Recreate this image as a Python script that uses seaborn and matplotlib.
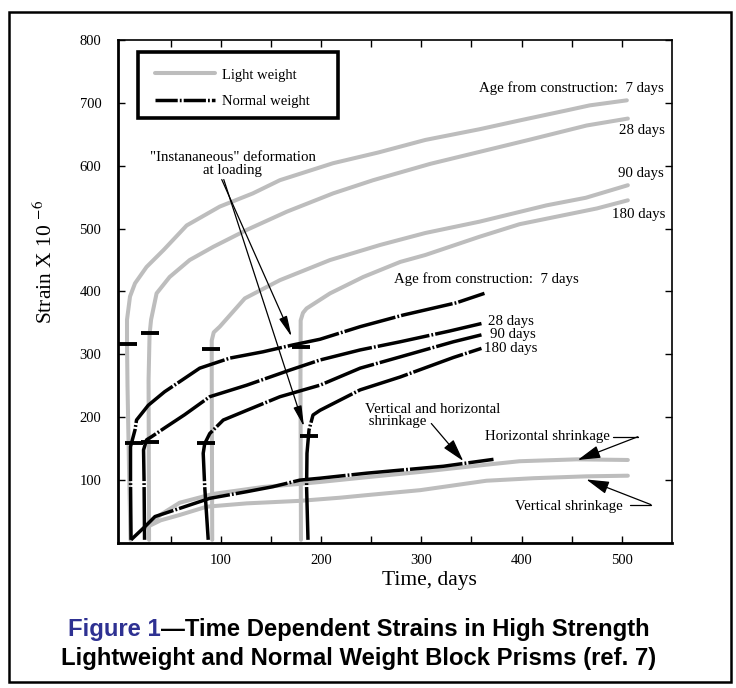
import matplotlib
matplotlib.use("Agg")
import matplotlib.pyplot as plt
from matplotlib.lines import Line2D
from matplotlib.patches import Rectangle
import seaborn as sns

# light weight prisms, loaded at 7 / 28 / 90 / 180 days
lw7_x = [10, 8.5, 7, 6.5, 6.5, 9.5, 14.5, 26, 43, 66, 99, 132, 159, 212, 257, 304, 358, 398, 445, 468, 505]
lw7_y = [5, 120, 250, 320, 355, 392, 413, 439, 466, 505, 535, 556, 577, 604, 621, 641, 658, 672, 688, 696, 704]
lw28_x = [28.5, 28, 29, 30.5, 36, 49, 69, 92.5, 126, 166, 212, 252, 309, 358, 407, 465, 506]
lw28_y = [5, 259, 332, 355, 397, 423, 450, 471, 498, 527, 556, 577, 603, 622, 641, 664, 675]
lw90_x = [91.5, 91, 91, 93, 99, 124, 159, 209, 259, 304, 358, 425, 464, 506]
lw90_y = [5, 259, 322, 335, 344, 389, 418, 450, 474, 493, 511, 537, 549, 569]
lw180_x = [180, 179.5, 179.7, 182, 185.6, 209, 242, 279, 304, 358, 398, 475, 506]
lw180_y = [5, 259, 354, 366, 373, 397, 423, 447, 458, 487, 507, 532, 545]
lw_hshrink_x = [26, 40, 59, 92.5, 142, 179, 199, 245, 299, 362, 398, 455, 506]
lw_hshrink_y = [25, 45, 64, 78, 89, 94, 97, 104.5, 113, 124, 130, 133, 132]
lw_vshrink_x = [26, 40, 59, 86, 126, 179, 219, 245, 299, 365, 412, 465, 506]
lw_vshrink_y = [25, 36, 44.5, 57.7, 63, 67, 72, 76, 84, 99, 103, 106, 107]

# normal weight prisms
nw7_x = [10.5, 10, 10, 14.5, 16, 27.7, 44, 59, 79, 109, 142, 172, 199, 239, 282, 335, 363]
nw7_y = [5, 100, 153, 180, 195.5, 219, 240.5, 256.5, 278, 294, 304, 315, 324, 344, 362.5, 382, 397]
nw28_x = [24, 23.5, 23, 26, 31, 45, 64, 89, 126, 169, 199, 239, 279, 328, 360]
nw28_y = [5, 100, 148, 164, 169, 184, 204, 232.6, 251, 275, 291, 307, 320, 337, 349]
nw90_x = [87.5, 84, 82.5, 84, 89, 102.5, 126, 159, 199, 239, 279, 332, 360]
nw90_y = [5, 89.5, 142.6, 158, 174, 195.5, 211, 232.6, 251, 278, 296, 320, 331]
nw180_x = [187, 185.6, 186, 188, 192, 199, 239, 279, 332, 360]
nw180_y = [5, 89.5, 142.6, 179.6, 203.5, 211, 243.5, 264, 295, 309.5]
nw_shrink_x = [10.5, 24.4, 34.4, 59, 89, 126, 152, 179, 199, 245.5, 322, 372]
nw_shrink_y = [5, 26, 42, 55, 71, 81.6, 89.5, 100, 103, 111, 122, 133]

# "instantaneous" deformation marks
inst_x = [7.5, 29, 90.5, 180, 13.5, 29, 85.5, 188.5]
inst_y = [316, 334, 308, 311, 158.5, 161, 159.5, 170.6]

GRAY = "#bdbdbd"
NW_DASH = (0, (38, 1.5, 1.3, 1.5))

sns.set_style("ticks")
plt.rcParams["font.family"] = ["Liberation Serif", "DejaVu Serif"]
plt.rcParams["mathtext.fontset"] = "stix"
plt.rcParams["lines.scale_dashes"] = False
for key in ["text.color", "axes.labelcolor", "xtick.color", "ytick.color"]:
    plt.rcParams[key] = "black"

fig = plt.figure(figsize=(7.36, 6.88), dpi=100)
ax = fig.add_axes([0.1603, 0.2108, 0.7527, 0.7311])

for xs, ys in [(lw7_x, lw7_y), (lw28_x, lw28_y), (lw90_x, lw90_y), (lw180_x, lw180_y),
               (lw_hshrink_x, lw_hshrink_y), (lw_vshrink_x, lw_vshrink_y)]:
    sns.lineplot(x=xs, y=ys, sort=False, estimator=None, color=GRAY, lw=2.9, ax=ax)

for xs, ys in [(nw7_x, nw7_y), (nw28_x, nw28_y), (nw90_x, nw90_y), (nw180_x, nw180_y),
               (nw_shrink_x, nw_shrink_y)]:
    sns.lineplot(x=xs, y=ys, sort=False, estimator=None, color="black", lw=2.5,
                 linestyle=NW_DASH, ax=ax)

ax.plot(inst_x, inst_y, ls="none", marker="_", ms=13, mew=2.8, color="black")

ax.set_xlim(-2.5, 550)
ax.set_ylim(0, 800)
ax.set_xticks(range(50, 550, 50))
ax.set_xticklabels([str(v) if v % 100 == 0 else "" for v in range(50, 550, 50)])
ax.set_yticks(range(100, 900, 100))
ax.tick_params(direction="in", length=5, width=1, top=True, right=True, labelsize=10.5)
ax.tick_params(axis="x", pad=8)
ax.tick_params(axis="y", pad=12)
for side in ["left", "bottom"]:
    ax.spines[side].set_linewidth(2)
for side in ["top", "right"]:
    ax.spines[side].set_linewidth(1.2)
for s in ax.spines.values():
    s.set_color("black")

ax.set_xlabel("Time, days", fontsize=15.5)
ax.set_ylabel("Strain X 10 $^{-6}$", fontsize=15.5)
ax.xaxis.set_label_coords(0.563, -0.056)
ax.yaxis.set_label_coords(-0.11, 0.559)

# legend inside a heavy box
handles = [Line2D([], [], color=GRAY, lw=2.9),
           Line2D([], [], color="black", lw=2.5, linestyle=(0, (16, 1.5, 1.3, 1.5)))]
ax.legend(handles, ["Light weight", "Normal weight"], loc="upper left",
          bbox_to_anchor=(0.054, 0.958), frameon=False, fontsize=10.5, borderpad=0,
          handlelength=4.1, handletextpad=0.45, labelspacing=0.9)
ax.add_patch(Rectangle((0.0356, 0.844), 0.3624, 0.1326, transform=ax.transAxes,
                       fill=False, lw=2.6, edgecolor="black", clip_on=False, zorder=5))

fs = 10.7
ax.text(541.5, 724, "Age from construction:  7 days", ha="right", va="center", fontsize=fs)
ax.text(543, 656.5, "28 days", ha="right", va="center", fontsize=fs)
ax.text(541.5, 588, "90 days", ha="right", va="center", fontsize=fs)
ax.text(543, 523, "180 days", ha="right", va="center", fontsize=fs)
ax.text(272.5, 419, "Age from construction:  7 days", ha="left", va="center", fontsize=fs)
ax.text(367, 352, "28 days", ha="left", va="center", fontsize=fs)
ax.text(368.5, 331.5, "90 days", ha="left", va="center", fontsize=fs)
ax.text(362.5, 309, "180 days", ha="left", va="center", fontsize=fs)
ax.text(111.8, 603, "\"Instananeous\" deformation\nat loading", ha="center", va="center",
        fontsize=fs, linespacing=0.95)
ax.text(244, 203, "Vertical and horizontal\n shrinkage", ha="left", va="center",
        fontsize=fs, linespacing=0.95)
ax.text(364, 169, "Horizontal shrinkage", ha="left", va="center", fontsize=fs)
ax.text(393, 58.5, "Vertical shrinkage", ha="left", va="center", fontsize=fs)

thin = dict(arrowstyle="-|>,head_width=0.18,head_length=0.9", color="black", lw=0.9,
            shrinkA=0, shrinkB=0, mutation_scale=14)
wide = dict(arrowstyle="-|>,head_width=0.28,head_length=1.0", color="black", lw=0.9,
            shrinkA=0, shrinkB=0, mutation_scale=14)
ax.annotate("", xy=(170.7, 328), xytext=(101, 578), arrowprops=thin)
ax.annotate("", xy=(183, 185), xytext=(103, 578), arrowprops=thin)
ax.annotate("", xy=(341.8, 130.4), xytext=(310, 190), arrowprops=wide)
ax.plot([491, 516], [169, 169], color="black", lw=0.9)
ax.annotate("", xy=(456, 132), xytext=(516, 169), arrowprops=wide)
ax.plot([508, 529], [61, 61], color="black", lw=0.9)
ax.annotate("", xy=(464.6, 101), xytext=(529, 61), arrowprops=wide)

# caption, "Figure 1" in blue
cap_font = dict(family=["Liberation Sans", "DejaVu Sans"], fontweight="bold", fontsize=17.2)
r = fig.canvas.get_renderer()
t1 = fig.text(0, 0.0847, "Figure 1", color="#2e3192", va="center", **cap_font)
t2 = fig.text(0, 0.0847, "\u2014Time Dependent Strains in High Strength", color="black",
              va="center", **cap_font)
w1 = t1.get_window_extent(r).width
w2 = t2.get_window_extent(r).width
x0 = 359 - (w1 + w2) / 2
t1.set_x(x0 / 736)
t2.set_x((x0 + w1) / 736)
fig.text(359 / 736, 0.0433, "Lightweight and Normal Weight Block Prisms (ref. 7)",
         ha="center", va="center", color="black", **cap_font)

fig.add_artist(Rectangle((0.0126, 0.0087), 0.9806, 0.9743, transform=fig.transFigure,
                         fill=False, lw=1.8, edgecolor="black"))

fig.savefig("out.png", dpi=100)
